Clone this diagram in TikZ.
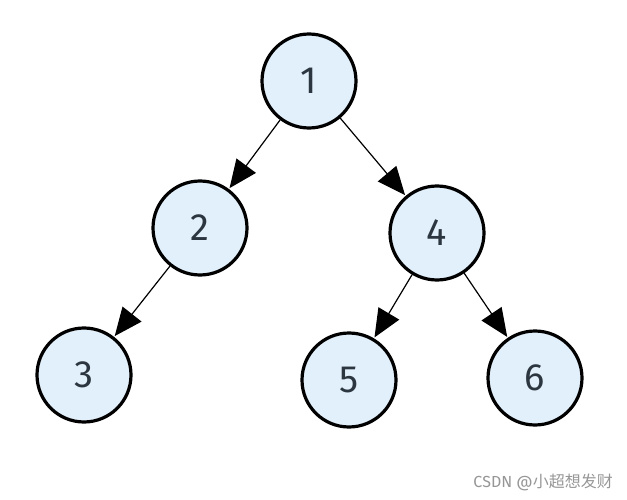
\documentclass[tikz,border=0pt]{standalone}
\usepackage{fontspec}
\setmainfont{Fira Sans}
\newfontfamily\cjkFont{Noto Sans CJK SC}
\usetikzlibrary{arrows.meta}
\definecolor{nodeFill}{RGB}{226,240,251}
\definecolor{digitColor}{RGB}{44,54,64}
\definecolor{markColor}{RGB}{150,150,150}
\tikzstyle{treePixels} = [x = 1pt, y = -1pt]
\tikzstyle{treeNode} = [circle, draw = black, fill = nodeFill, line width = 3.2pt, minimum size = 94pt, inner sep = 0pt, text = digitColor, font = \fontsize{38}{40}\selectfont]
\tikzstyle{treeEdge} = [line width = 1.2pt, -{Triangle[length = 28pt, width = 24pt]}, shorten >= 1pt]
\tikzstyle{markText} = [text = markColor, font = \fontsize{16}{18}\selectfont, inner sep = 0pt]
\newcommand{\treeNode}[3]{\node [treeNode] (n#1) at (#2, #3) {#1};}

\begin{document}
\begin{tikzpicture}[treePixels]
        \useasboundingbox (0, 0) rectangle (627, 500);
        \treeNode{1}{309}{81}
        \treeNode{2}{200}{228}
        \treeNode{4}{437}{233}
        \treeNode{3}{84}{375}
        \treeNode{5}{349}{380}
        \treeNode{6}{535}{378}

        \foreach \from/\to in {1/2, 1/4, 2/3, 4/5, 4/6} {
          \draw [treeEdge] (n\from) -- (n\to);
        }

        \node [markText, anchor = east] (watermark) at (613, 482) {CSDN @{\cjkFont 小超想发财}};
      \end{tikzpicture}
\end{document}
